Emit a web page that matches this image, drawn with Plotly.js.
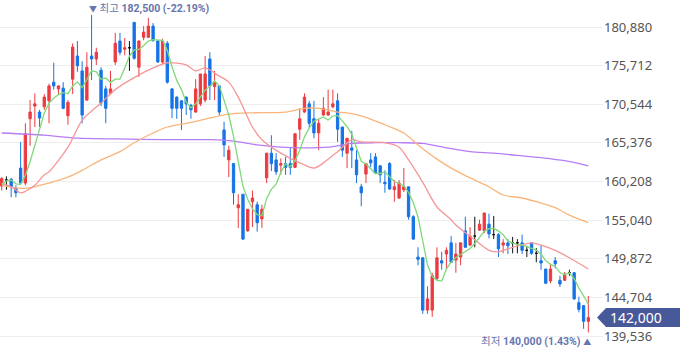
<!DOCTYPE html>
<html><head><meta charset="utf-8">
<script src="https://cdn.plot.ly/plotly-3.0.1.min.js"></script>
<style>html,body{margin:0;padding:0;background:#fff;}#chart{width:680px;height:358px;}</style>
</head><body><div id="chart"></div>
<script>
// Daily OHLC (KRW), 125 sessions, oldest first
const openP = [159600,160400,160500,159300,162000,160000,168600,170300,169500,170200,171000,173500,172600,172700,169000,173900,177000,175000,171100,177000,
176600,175100,172600,172000,176200,179000,177900,178100,181500,175500,179500,179500,181000,179000,176200,178700,172600,171500,171000,171500,
170400,169500,170600,171100,176600,172900,173000,167100,163100,162600,156700,158500,153600,157500,157100,155200,160700,164000,163100,162400,
162600,162600,162100,167200,169500,170600,168600,166700,169100,169100,170200,171000,167500,164000,164700,163100,159500,161200,163100,163500,
162300,160100,162600,159100,158000,159100,159500,155500,150100,150000,143000,143000,147200,149600,150500,152000,149700,150100,153600,151700,
152900,153700,153600,154500,153100,153100,151700,152000,152000,152000,152000,151000,152000,150600,149600,148500,146900,149600,147000,147000,
148000,148000,144000,143600,141500];
const highP = [160800,160900,160700,159700,165500,168000,171100,172000,169800,171900,173300,176100,173100,173500,171100,178700,179000,176300,177500,182500,
178100,175500,173000,175000,180100,180100,179400,179000,181500,179100,181000,182100,181400,179100,179300,179000,172700,171600,171100,171600,
170600,173900,174600,177000,177500,175000,173000,168200,165000,162600,158500,158500,156500,159000,157500,157100,164000,166400,164000,163300,
163500,164800,166600,170000,172000,171000,171000,168600,171500,172500,172500,172000,167500,166000,167000,164400,159900,162600,164000,164000,
162400,161700,162800,160400,160400,162000,159500,155700,151400,150000,146200,148000,151400,150800,151400,152900,152000,152000,155500,154100,
155500,155100,156000,155900,155600,153300,152500,152500,152800,152500,153100,151600,152000,151300,151700,148500,149200,150100,147600,148100,
148400,148100,144800,143600,144900];
const lowP = [159000,159100,158100,158100,159900,159700,165000,167500,167500,169800,168000,172500,171900,169900,167800,171900,174900,168000,171000,173800,
175800,170300,168000,171800,175800,177100,177100,175000,176500,174200,179100,179400,178900,176100,175900,173300,168700,168600,167100,169100,
168600,169400,170300,170800,171100,171100,169100,163500,160800,157100,154000,152400,153500,154100,153500,154000,160000,161600,161100,161100,
161100,161100,162000,165800,169400,167400,166000,164400,169000,169000,170000,165500,163500,162000,162000,160000,156900,160000,162100,161200,
160000,158700,159100,157500,157900,158800,155100,152400,149000,142500,142500,142100,147000,148400,148400,149300,148000,149000,151400,151600,
151400,153600,153300,152600,152500,150100,150600,150500,150600,150600,150500,150100,150400,149400,148400,146500,146600,148600,146100,146900,
147600,144400,142700,140500,140000];
const closeP = [160600,160400,159500,158700,160000,166600,169500,170600,168700,171500,173000,173000,173000,170000,170800,178200,175700,169100,175500,176600,
177500,170700,170000,172600,178700,177500,178100,178100,176700,179000,180200,181000,179100,176200,179000,173500,170000,170000,170000,170600,
169800,172600,174600,174600,173000,173500,169500,165100,164400,158700,157100,152500,156500,158000,154700,156500,164000,162600,161500,162600,
162100,162100,166600,168600,171500,168000,166700,168000,170000,169500,170600,167200,164400,166000,164400,161100,158700,162600,162700,161300,
161100,159900,159200,159500,160000,159500,155500,152500,149800,143000,144500,147600,150000,149300,151000,149400,150500,152000,151400,152900,
152900,154500,156000,153200,153100,151200,152000,151600,152000,152000,151000,151000,150600,150600,149300,146600,148500,149200,146500,147800,
148000,144500,143100,141500,142000];

// Moving averages
const ma5 = [159800,160300,160400,159900,159840,161040,162860,165080,167080,169380,170660,171360,171840,172100,171960,173000,173540,172760,173860,175020,
174880,173880,174060,173480,173900,173900,175380,177000,177820,177880,178420,179000,179200,179100,179100,177760,175560,173740,172500,170820,
170080,170600,171520,172440,172920,173660,173040,171140,169100,166240,162960,159560,157840,156560,155760,155640,157940,159160,159860,161440,
162560,162180,162980,164400,166180,167360,168280,168560,168840,168440,168960,169060,168340,167540,166520,164620,162920,162560,161900,161280,
161280,161520,160840,160200,159940,159620,158740,157400,155460,152060,149060,147480,146980,146880,148480,149460,150040,150440,150860,151240,
151940,152740,153540,153900,153940,153600,153100,152220,151980,151760,151720,151520,151320,151040,150500,149620,149120,148840,148020,147720,
148000,147200,145980,144980,143820];
const ma20Idx = [1,3,5,6,8,10,11,15,18,22,25,29,33,36,40,42,44,47,49,51,54,56,60,64,67,69,72,75,77,82,85,87,90,93,96,97,101,104,106,109,113,115,118,121,125];
const ma20 = [160000,159500,158700,158900,159700,161100,161500,164800,168400,170700,172500,174100,175400,176100,175800,175000,175400,174300,173500,171500,
167500,165800,164000,162700,162000,162700,164200,165800,165500,165400,164800,163100,160100,156800,155100,154400,152400,151000,150800,151400,
152000,151700,151000,150000,148500];
const ma60Idx = [1,5,8,11,15,18,22,26,29,33,36,40,43,47,50,54,61,65,68,72,75,78,82,86,89,93,96,99,101,104,107,111,114,118,121,125];
const ma60 = [159700,159300,159500,160000,160800,161700,163100,164200,165400,166700,167500,168000,168400,169000,169300,169400,169500,170000,170000,169500,
169300,168800,167800,166700,165100,163200,162000,161000,160400,159500,158400,158000,157500,156700,155700,154700];
const ma120Idx = [1,10,17,25,35,45,50,55,60,65,70,75,80,85,90,95,100,105,110,115,120,125];
const ma120 = [166700,166400,166000,165900,165800,165800,165600,165100,164800,164700,164800,165300,165400,165400,165300,164700,164200,164000,163700,163400,163000,162300];

const yTicks = [139536,144704,149872,155040,160208,165376,170544,175712,180880];

const RED = '#ec3b40', BLUE = '#1673e6', BLACK = '#111111';
const idx = openP.map((_, i) => i + 1);

function pick(cond) {
  const d = {x: [], o: [], h: [], l: [], c: []};
  for (let i = 0; i < idx.length; i++) {
    if (cond(openP[i], closeP[i])) {
      d.x.push(idx[i]); d.o.push(openP[i]); d.h.push(highP[i]); d.l.push(lowP[i]); d.c.push(closeP[i]);
    }
  }
  return d;
}
function candle(d, color) {
  return {type: 'candlestick', x: d.x, open: d.o, high: d.h, low: d.l, close: d.c,
    increasing: {line: {color: color, width: 1}, fillcolor: color},
    decreasing: {line: {color: color, width: 1}, fillcolor: color},
    whiskerwidth: 0, hoverinfo: 'skip', showlegend: false};
}
function maLine(x, y, color, shape) {
  return {type: 'scatter', mode: 'lines', x: x, y: y, hoverinfo: 'skip', showlegend: false,
    line: {color: color, width: 1.3, shape: shape, smoothing: 0.8}};
}

const traces = [
  maLine(ma120Idx, ma120, '#b77df6', 'spline'),
  maLine(ma60Idx, ma60, '#f9b57c', 'spline'),
  maLine(ma20Idx, ma20, '#f59797', 'spline'),
  maLine(idx, ma5, '#7fd97a', 'linear'),
  candle(pick((o, c) => c > o), RED),
  candle(pick((o, c) => c < o), BLUE),
  candle(pick((o, c) => c === o), BLACK)
];

const yRange = [137663, 184493];
const last = closeP[closeP.length - 1];
const maxH = Math.max(...highP), maxI = highP.indexOf(maxH) + 1;
const minL = Math.min(...lowP), minI = lowP.indexOf(minL) + 1;
const fmt = v => v.toLocaleString('en-US');
const pctHigh = ((last - maxH) / maxH * 100).toFixed(2);
const pctLow = ((last - minL) / minL * 100).toFixed(2);

const yp = (last - yRange[0]) / (yRange[1] - yRange[0]);
const hh = 9.5 / 350;
const xTip = 597 / 603, xBase = 606 / 603, xEnd = 680 / 603;
const labelColor = '#6676ad';
const labelFont = 'Roboto, Noto Sans CJK KR, sans-serif';

const layout = {
  width: 680, height: 358,
  margin: {l: 0, r: 77, t: 0, b: 8},
  paper_bgcolor: '#ffffff', plot_bgcolor: '#ffffff',
  showlegend: false,
  xaxis: {range: [0.64, 128.1], showgrid: false, zeroline: false, showticklabels: false,
    showline: false, ticks: '', rangeslider: {visible: false}, fixedrange: true},
  yaxis: {side: 'right', range: yRange, tickvals: yTicks, tickformat: ',d',
    showgrid: true, gridcolor: '#eeeeee', gridwidth: 1, zeroline: false, showline: false, ticks: '',
    tickfont: {family: 'Noto Sans, sans-serif', size: 13, color: '#555555'}, fixedrange: true},
  shapes: [{type: 'path', xref: 'paper', yref: 'paper', layer: 'above',
    path: `M ${xTip},${yp} L ${xBase},${yp + hh} L ${xEnd},${yp + hh} L ${xEnd},${yp - hh} L ${xBase},${yp - hh} Z`,
    fillcolor: '#48599a', line: {width: 0}}],
  annotations: [
    {xref: 'paper', yref: 'paper', x: 608 / 603, y: yp, xanchor: 'left', yanchor: 'middle', showarrow: false,
      text: fmt(last), font: {family: 'Noto Sans, sans-serif', size: 14, color: '#ffffff'}},
    {x: maxI, y: maxH, xanchor: 'left', yanchor: 'middle', xshift: -5, yshift: 6, showarrow: false,
      text: `<span style="font-size:8px">▼</span> 최고 <b>${fmt(maxH)} (${pctHigh}%)</b>`,
      font: {family: labelFont, size: 10.5, color: labelColor}},
    {x: minI, y: minL, xanchor: 'right', yanchor: 'middle', xshift: 5, yshift: -9, showarrow: false,
      text: `최저 <b>${fmt(minL)} (${pctLow}%)</b> <span style="font-size:8px">▲</span>`,
      font: {family: labelFont, size: 10.5, color: labelColor}}
  ]
};

Plotly.newPlot('chart', traces, layout, {staticPlot: true, displayModeBar: false});
</script>
</body></html>
